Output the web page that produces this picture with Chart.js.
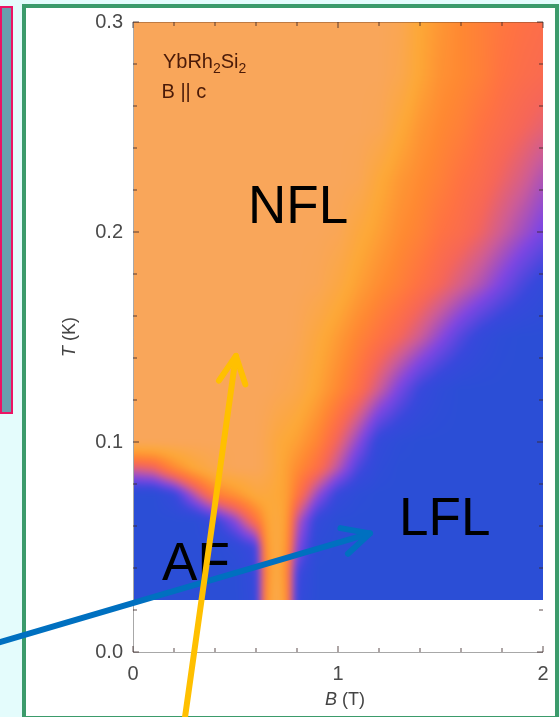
<!DOCTYPE html>
<html>
<head>
<meta charset="utf-8">
<script src="https://cdn.jsdelivr.net/npm/chart.js@4.4.0/dist/chart.umd.min.js"></script>
<style>
  html, body { margin: 0; padding: 0; width: 560px; height: 717px; overflow: hidden; background: #e4fcfc; }
  #leftPanel { position: absolute; left: 0; top: 6px; width: 13px; height: 408px; box-sizing: border-box; border: 2px solid #ec1464; background: #6a9fae; }
  #frame { position: absolute; left: 22px; top: 4px; width: 537px; height: 716px; box-sizing: border-box; border: 4px solid #3b9b6b; background: #fff; }
  #wrap { position: absolute; left: 0; top: 0; width: 560px; height: 717px; }
</style>
</head>
<body>
<div id="leftPanel"></div>
<div id="frame"></div>
<div id="wrap"><canvas id="phaseChart" width="560" height="717"></canvas></div>
<script>
// field axis (B in tesla), temperature rows (K) from top to bottom
const fieldB = [0, 0.1, 0.2, 0.3, 0.4, 0.5, 0.6, 0.65, 0.7, 0.75, 0.8, 0.9, 1.0, 1.1, 1.2, 1.3, 1.4, 1.5, 1.6, 1.7, 1.8, 1.9, 2.0];
const tempT = [0.3, 0.275, 0.25, 0.225, 0.2, 0.175, 0.15, 0.125, 0.1, 0.0875, 0.075, 0.0625, 0.05, 0.0375, 0.025];

// colour value: 0 = LFL blue ... 1 = NFL orange
const mapValues = [
  [1,1,1,1,1,1,1,1,1,1,1,1,1,1,1,0.97,0.84,0.76,0.70,0.66,0.62,0.59,0.57],
  [1,1,1,1,1,1,1,1,1,1,1,1,1,1,1,0.95,0.83,0.74,0.70,0.66,0.60,0.57,0.55],
  [1,1,1,1,1,1,1,1,1,1,1,1,1,1,0.98,0.86,0.76,0.70,0.66,0.60,0.56,0.52,0.48],
  [1,1,1,1,1,1,1,1,1,1,1,1,1,0.98,0.86,0.77,0.71,0.66,0.60,0.56,0.50,0.44,0.36],
  [1,1,1,1,1,1,1,1,1,1,1,1,0.98,0.88,0.80,0.72,0.67,0.60,0.56,0.50,0.42,0.34,0.26],
  [1,1,1,1,1,1,1,1,1,1,1,0.98,0.90,0.80,0.72,0.66,0.59,0.52,0.44,0.36,0.26,0.16,0.08],
  [1,1,1,1,1,1,1,1,1,1,0.98,0.88,0.78,0.68,0.60,0.52,0.42,0.30,0.18,0.08,0.02,0,0],
  [1,1,1,1,1,1,1,1,0.98,0.96,0.93,0.82,0.70,0.58,0.42,0.26,0.12,0.04,0,0,0,0,0],
  [1,1,1,1,1,1,1,0.95,0.88,0.84,0.80,0.68,0.50,0.30,0.08,0.02,0,0,0,0,0,0,0],
  [0.45,0.50,0.70,0.85,0.95,1,1,0.95,0.88,0.80,0.72,0.58,0.38,0.16,0.04,0,0,0,0,0,0,0,0],
  [0,0,0.10,0.38,0.65,0.75,0.88,0.88,0.85,0.80,0.62,0.32,0.10,0.02,0,0,0,0,0,0,0,0,0],
  [0,0,0,0,0.10,0.30,0.60,0.80,0.90,0.78,0.40,0.08,0,0,0,0,0,0,0,0,0,0,0],
  [0,0,0,0,0,0.05,0.15,0.75,0.92,0.75,0.30,0.02,0,0,0,0,0,0,0,0,0,0,0],
  [0,0,0,0,0,0,0.10,0.70,0.93,0.70,0.15,0,0,0,0,0,0,0,0,0,0,0,0],
  [0,0,0,0,0,0,0.08,0.72,0.97,0.72,0.10,0,0,0,0,0,0,0,0,0,0,0,0]
];

const xTickValues = [0, 1, 2];
const yTickValues = [0, 0.1, 0.2, 0.3];

// labels placed in axis units
const regionLabels = [
  { text: 'NFL', b: 0.561, t: 0.2041 },
  { text: 'LFL', b: 1.298, t: 0.0555 },
  { text: 'AF', b: 0.142, t: 0.0342 }
];
const arrowBlue = { from: [-0.673, 0.004], to: [1.156, 0.0565] };
const arrowYellow = { from: [0.248, -0.035], to: [0.502, 0.141] };

const colourStops = [
  [0.00, [43, 78, 214]],
  [0.12, [55, 72, 220]],
  [0.28, [128, 70, 226]],
  [0.42, [205, 92, 150]],
  [0.52, [246, 102, 88]],
  [0.60, [255, 114, 66]],
  [0.70, [255, 136, 50]],
  [0.84, [253, 168, 54]],
  [1.00, [249, 166, 90]]
];

function colourFor(v) {
  v = Math.max(0, Math.min(1, v));
  for (let i = 0; i < colourStops.length - 1; i++) {
    const [v0, c0] = colourStops[i];
    const [v1, c1] = colourStops[i + 1];
    if (v <= v1) {
      const f = (v - v0) / (v1 - v0);
      return [0, 1, 2].map(k => Math.round(c0[k] + (c1[k] - c0[k]) * f));
    }
  }
  return colourStops[colourStops.length - 1][1];
}

function sampleMap(b, t) {
  let i = 0;
  while (i < fieldB.length - 2 && b > fieldB[i + 1]) i++;
  let j = 0;
  while (j < tempT.length - 2 && t < tempT[j + 1]) j++;
  const fx = Math.max(0, Math.min(1, (b - fieldB[i]) / (fieldB[i + 1] - fieldB[i])));
  const fy = Math.max(0, Math.min(1, (tempT[j] - t) / (tempT[j] - tempT[j + 1])));
  const a = mapValues[j][i], c = mapValues[j][i + 1];
  const d = mapValues[j + 1][i], e = mapValues[j + 1][i + 1];
  return (a * (1 - fx) + c * fx) * (1 - fy) + (d * (1 - fx) + e * fx) * fy;
}

const phaseMapPlugin = {
  id: 'phaseMap',
  beforeDatasetsDraw(chart) {
    const { ctx, scales: { x, y } } = chart;
    const left = Math.round(x.getPixelForValue(fieldB[0]));
    const right = Math.round(x.getPixelForValue(fieldB[fieldB.length - 1]));
    const top = Math.round(y.getPixelForValue(tempT[0]));
    const bottom = Math.round(y.getPixelForValue(tempT[tempT.length - 1]));
    const m = 10;
    const w = right - left + 2 * m, h = bottom - top + 2 * m;
    const off = document.createElement('canvas');
    off.width = w; off.height = h;
    const octx = off.getContext('2d');
    const img = octx.createImageData(w, h);
    for (let py = 0; py < h; py++) {
      const t = y.getValueForPixel(top - m + py + 0.5);
      for (let px = 0; px < w; px++) {
        const b = x.getValueForPixel(left - m + px + 0.5);
        const c = colourFor(sampleMap(b, t));
        const k = (py * w + px) * 4;
        img.data[k] = c[0]; img.data[k + 1] = c[1]; img.data[k + 2] = c[2]; img.data[k + 3] = 255;
      }
    }
    octx.putImageData(img, 0, 0);
    ctx.save();
    ctx.beginPath();
    ctx.rect(left, top, right - left, bottom - top);
    ctx.clip();
    ctx.filter = 'blur(3px)';
    ctx.drawImage(off, left - m, top - m);
    ctx.restore();
  },
  afterDraw(chart) {
    const { ctx, chartArea: area, scales: { x, y } } = chart;
    ctx.save();

    // frame lines
    ctx.strokeStyle = '#a8a8a8';
    ctx.lineWidth = 1;
    ctx.beginPath();
    ctx.moveTo(area.left + 0.5, area.top);
    ctx.lineTo(area.left + 0.5, area.bottom + 0.5);
    ctx.lineTo(area.right, area.bottom + 0.5);
    ctx.stroke();
    ctx.strokeStyle = 'rgba(120,70,40,0.45)';
    ctx.beginPath();
    ctx.moveTo(area.left, area.top + 0.5);
    ctx.lineTo(area.right, area.top + 0.5);
    ctx.stroke();

    // inward ticks
    ctx.strokeStyle = 'rgba(60,40,40,0.55)';
    ctx.lineWidth = 1.5;
    for (let k = 0; k <= 15; k++) {
      const py = y.getPixelForValue(k * 0.02);
      const len = k % 5 === 0 ? 6 : 4;
      ctx.beginPath();
      ctx.moveTo(area.left, py); ctx.lineTo(area.left + len, py);
      ctx.moveTo(area.right, py); ctx.lineTo(area.right - len, py);
      ctx.stroke();
    }
    for (let k = 0; k <= 10; k++) {
      const px = x.getPixelForValue(k * 0.2);
      const len = k % 5 === 0 ? 6 : 4;
      ctx.beginPath();
      ctx.moveTo(px, area.bottom); ctx.lineTo(px, area.bottom - len);
      ctx.moveTo(px, area.top); ctx.lineTo(px, area.top + len);
      ctx.stroke();
    }

    // axis titles with italic symbol
    ctx.fillStyle = '#444';
    ctx.textBaseline = 'middle';
    const drawTitle = (sym, rest, cx, cy, rot) => {
      ctx.save();
      ctx.translate(cx, cy);
      ctx.rotate(rot);
      ctx.font = 'italic 18px "Liberation Sans"';
      const w1 = ctx.measureText(sym).width;
      ctx.font = '18px "Liberation Sans"';
      const w2 = ctx.measureText(rest).width;
      const sx = -(w1 + w2) / 2;
      ctx.textAlign = 'left';
      ctx.font = 'italic 18px "Liberation Sans"';
      ctx.fillText(sym, sx, 0);
      ctx.font = '18px "Liberation Sans"';
      ctx.fillText(rest, sx + w1, 0);
      ctx.restore();
    };
    drawTitle('B', ' (T)', (area.left + area.right) / 2 + 7, area.bottom + 48, 0);
    drawTitle('T', ' (K)', area.left - 63, (area.top + area.bottom) / 2, -Math.PI / 2);

    // sample label
    ctx.textBaseline = 'alphabetic';
    ctx.textAlign = 'left';
    ctx.fillStyle = '#4a1a08';
    let sx = x.getPixelForValue(0.146);
    const sy = y.getPixelForValue(0.278);
    const parts = [['YbRh', false], ['2', true], ['Si', false], ['2', true]];
    parts.forEach(([s, sub]) => {
      ctx.font = sub ? '14px "Liberation Sans"' : '20px "Liberation Sans"';
      ctx.fillText(s, sx, sub ? sy + 5 : sy);
      sx += ctx.measureText(s).width;
    });
    ctx.font = '20px "Liberation Sans"';
    ctx.fillText('B || c', x.getPixelForValue(0.139), y.getPixelForValue(0.2639));

    // region labels
    ctx.fillStyle = '#000';
    ctx.font = '53px "Liberation Sans"';
    regionLabels.forEach(l => {
      ctx.fillText(l.text, x.getPixelForValue(l.b), y.getPixelForValue(l.t));
    });

    // arrows
    const drawArrow = (arrow, colour) => {
      const x0 = x.getPixelForValue(arrow.from[0]), y0 = y.getPixelForValue(arrow.from[1]);
      const x1 = x.getPixelForValue(arrow.to[0]), y1 = y.getPixelForValue(arrow.to[1]);
      const ang = Math.atan2(y1 - y0, x1 - x0);
      const L = 30, spread = 0.46;
      ctx.strokeStyle = colour;
      ctx.lineWidth = 6;
      ctx.lineCap = 'round';
      ctx.lineJoin = 'round';
      ctx.beginPath();
      ctx.moveTo(x0, y0); ctx.lineTo(x1, y1);
      ctx.stroke();
      ctx.beginPath();
      ctx.moveTo(x1 - L * Math.cos(ang - spread), y1 - L * Math.sin(ang - spread));
      ctx.lineTo(x1, y1);
      ctx.lineTo(x1 - L * Math.cos(ang + spread), y1 - L * Math.sin(ang + spread));
      ctx.stroke();
    };
    drawArrow(arrowBlue, '#0070c0');
    drawArrow(arrowYellow, '#ffc000');

    ctx.restore();
  }
};

new Chart(document.getElementById('phaseChart'), {
  type: 'scatter',
  data: { datasets: [] },
  options: {
    responsive: false,
    animation: false,
    devicePixelRatio: 1,
    events: [],
    layout: { padding: { left: 0, right: 17, top: 20, bottom: 0 } },
    plugins: { legend: { display: false }, tooltip: { enabled: false } },
    scales: {
      x: {
        type: 'linear',
        min: 0, max: 2,
        afterBuildTicks: s => { s.ticks = xTickValues.map(v => ({ value: v })); },
        ticks: {
          color: '#4a4a4a',
          padding: 10,
          font: { family: 'Liberation Sans', size: 20 },
          callback: v => String(v)
        },
        grid: { display: false, drawTicks: false },
        border: { display: false },
        afterFit: s => { s.height = 65; }
      },
      y: {
        type: 'linear',
        min: 0, max: 0.3,
        afterBuildTicks: s => { s.ticks = yTickValues.map(v => ({ value: v })); },
        ticks: {
          color: '#4a4a4a',
          padding: 10,
          font: { family: 'Liberation Sans', size: 20 },
          callback: v => Number(v).toFixed(1)
        },
        grid: { display: false, drawTicks: false },
        border: { display: false },
        afterFit: s => { s.width = 133; }
      }
    }
  },
  plugins: [phaseMapPlugin]
});
</script>
</body>
</html>
